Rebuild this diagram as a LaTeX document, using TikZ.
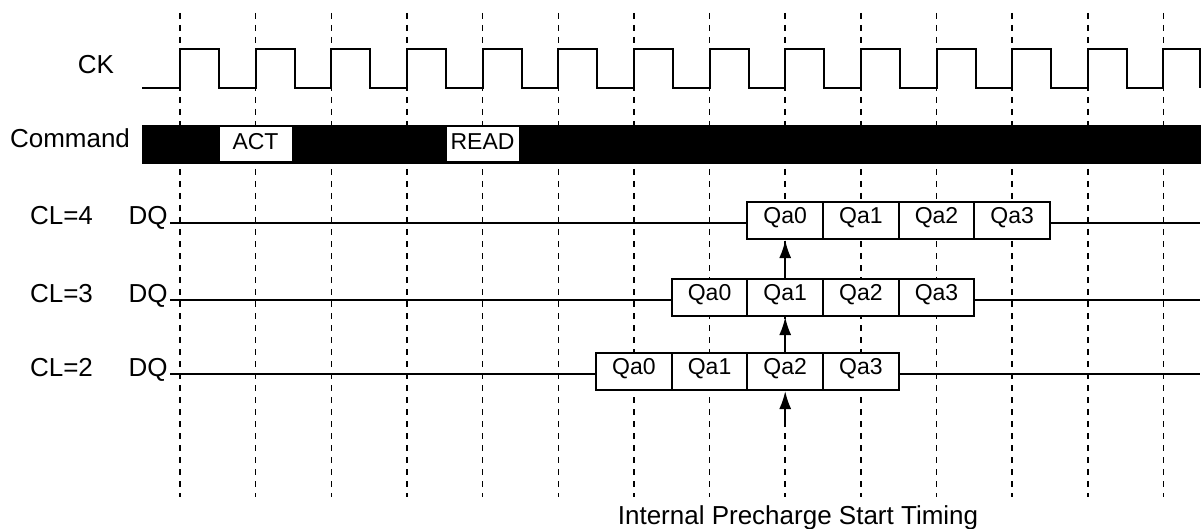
\documentclass[tikz,border=0pt]{standalone}
\usepackage{fontspec}
\setmainfont{Liberation Sans}
\usetikzlibrary{arrows.meta}

\begin{document}
\begin{tikzpicture}[x=0.5pt,y=-0.5pt,line width=1pt,
  lbl/.style={anchor=base,inner sep=0pt,font=\fontsize{13}{15}\selectfont},
  cell/.style={draw,fill=white,anchor=base,inner sep=0pt,minimum width=37.8pt,
    text height=10.5pt,text depth=8pt,font=\fontsize{11.5}{13}\selectfont},
  cmdbox/.style={draw,fill=white,line width=0.5pt,anchor=base,inner sep=0pt,
    minimum width=36.5pt,text height=11.5pt,text depth=6pt,font=\fontsize{11.5}{13}\selectfont},
  grid/.style={line width=0.75pt,dash pattern=on 3pt off 3pt},
  tip/.style={-{Latex[length=9pt,width=6pt]}}]
  \useasboundingbox (0,0) rectangle (1203,529);
  \def\P{75.65}
  \foreach \k in {0,...,13}
    \draw[grid] (180+\k*\P,13) -- (180+\k*\P,497);
  \draw[line join=miter] (142,88) \foreach \k in {0,...,12}{ -- (180+\k*\P,88) -- ++(0,-39) -- ++(39,0) -- ++(0,39)}
    -- (180+13*\P,88) -- ++(0,-39) -- (1200,49) -- (1200,88);
  \node[lbl] (ck) at (96,74) {CK};
  \node[lbl] (cmd) at (70,148) {Command};
  \fill (142,125) rectangle (1201,164);
  \node[cmdbox] (act) at (255.5,150) {ACT};
  \node[cmdbox] (read) at (482.5,150) {READ};
  \foreach \cl/\y/\s in {4/223/7.5,3/300/6.5,2/374/5.5}{
    \node[lbl] (cl\cl) at (61.5,\y+2) {CL=\cl};
    \node[lbl] (dq\cl) at (148,\y+2) {DQ};
    \foreach \i in {0,...,3}
      \node[cell] (q\cl-\i) at (180+\s*\P+\i*\P+0.5*\P,\y) {Qa\i};
    \draw (170,\y) -- (q\cl-0.base west);
    \draw (q\cl-3.base east) -- (1200,\y);
  }
  \coordinate (pre) at (180+8*\P,427);
  \draw[tip] (q3-1.north) -- (q4-0.south);
  \draw[tip] (q2-2.north) -- (q3-1.south);
  \draw[tip] (pre) -- (q2-2.south);
  \node[lbl] (timing) at (798,524) {Internal Precharge Start Timing};
\end{tikzpicture}
\end{document}
